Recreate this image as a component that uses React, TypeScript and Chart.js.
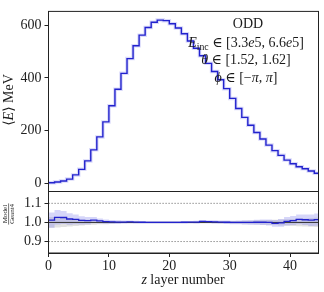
import React, { useEffect, useRef } from 'react';
import { Chart, registerables } from 'chart.js';
Chart.register(...registerables);

// ---------------- data ----------------
const X_MAX = 44.7;
const energyTicks = [0, 200, 400, 600];
const ratioTicks = [0.9, 1.0, 1.1];
const xTicks = [0, 10, 20, 30, 40];

// mean energy per z layer (MeV), 45 layers
const meanEnergy = [
  2, 5, 9, 16, 32, 53, 85, 127, 176, 233,
  294, 357, 417, 473, 522, 562, 591, 611, 619, 617,
  605, 589, 567, 540, 512, 484, 455, 424, 393, 359,
  322, 284, 250, 220, 193, 168, 145, 124, 106, 88,
  74, 63, 55, 47, 38,
];

// Model / Geant4 ratio per layer
const ratioModel = [
  1.012, 1.027, 1.026, 1.018, 1.016, 1.011, 1.010, 1.012, 1.008, 1.004,
  1.003, 1.002, 1.002, 1.003, 1.002, 1.001, 1.000, 1.000, 1.000, 1.000,
  1.000, 1.000, 1.001, 1.002, 1.002, 1.006, 1.004, 1.003, 1.002, 1.001,
  1.000, 1.000, 1.000, 1.000, 1.001, 1.001, 1.000, 0.995, 0.998, 1.006,
  1.010, 1.016, 1.014, 1.012, 1.015,
];

// uncertainty of the model ratio
const modelErr = [
  0.040, 0.038, 0.034, 0.030, 0.026, 0.022, 0.019, 0.016, 0.013, 0.011,
  0.010, 0.009, 0.008, 0.007, 0.007, 0.006, 0.006, 0.006, 0.006, 0.006,
  0.006, 0.006, 0.006, 0.006, 0.007, 0.007, 0.007, 0.008, 0.008, 0.009,
  0.009, 0.010, 0.011, 0.012, 0.013, 0.014, 0.016, 0.018, 0.020, 0.022,
  0.024, 0.026, 0.028, 0.030, 0.032,
];

// uncertainty of Geant4 (around 1)
const geantErr = [
  0.028, 0.026, 0.024, 0.021, 0.018, 0.016, 0.014, 0.012, 0.010, 0.009,
  0.008, 0.007, 0.006, 0.006, 0.005, 0.005, 0.005, 0.005, 0.005, 0.005,
  0.005, 0.005, 0.005, 0.005, 0.005, 0.006, 0.006, 0.006, 0.007, 0.007,
  0.008, 0.008, 0.009, 0.010, 0.011, 0.012, 0.013, 0.014, 0.016, 0.017,
  0.018, 0.020, 0.021, 0.022, 0.024,
];

const ratioDotted = [0.9, 1.1];
const ratioUnity = 1.0;

// ---------------- style ----------------
const FONT = "'Liberation Serif', 'DejaVu Serif', serif";
const BLUE = 'rgb(34,34,205)';
const HALO = 'rgba(150,150,240,0.35)';
const AXIS = '#222';

function stepPoints(vals: number[]) {
  const pts = vals.map((v, i) => ({ x: i, y: v }));
  pts.push({ x: vals.length, y: vals[vals.length - 1] });
  return pts;
}
function flatLine(v: number) {
  return [{ x: 0, y: v }, { x: meanEnergy.length, y: v }];
}

type Seg = { t: string; it?: boolean; sub?: boolean };
function drawRich(ctx: CanvasRenderingContext2D, segs: Seg[], cx: number, baseline: number, size: number) {
  const fontFor = (s: Seg) => `${s.it ? 'italic ' : ''}${s.sub ? size * 0.7 : size}px ${FONT}`;
  let w = 0;
  for (const s of segs) { ctx.font = fontFor(s); w += ctx.measureText(s.t).width; }
  let x = cx - w / 2;
  ctx.textAlign = 'left';
  ctx.textBaseline = 'alphabetic';
  for (const s of segs) {
    ctx.font = fontFor(s);
    ctx.fillText(s.t, x, baseline + (s.sub ? size * 0.22 : 0));
    x += ctx.measureText(s.t).width;
  }
  return w;
}

const framePlugin = {
  id: 'frame',
  afterDraw(chart: any) {
    const { ctx, chartArea: a } = chart;
    ctx.save();
    ctx.strokeStyle = AXIS;
    ctx.lineWidth = 1;
    ctx.strokeRect(a.left, a.top, a.right - a.left, a.bottom - a.top);
    ctx.restore();
  },
};

const mainTextPlugin = {
  id: 'mainText',
  afterDraw(chart: any) {
    const ctx: CanvasRenderingContext2D = chart.ctx;
    ctx.save();
    ctx.fillStyle = '#1a1a1a';
    const cx = 246;
    drawRich(ctx, [{ t: 'ODD' }], cx + 2, 28.3, 14);
    drawRich(ctx, [
      { t: 'E', it: true }, { t: 'inc', sub: true }, { t: ' ∈ [3.3' }, { t: 'e', it: true },
      { t: '5, 6.6' }, { t: 'e', it: true }, { t: '5]' },
    ], cx, 47, 14);
    drawRich(ctx, [{ t: 'θ', it: true }, { t: ' ∈ [1.52, 1.62]' }], cx, 64, 14);
    drawRich(ctx, [
      { t: 'ϕ', it: true }, { t: ' ∈ [−' }, { t: 'π', it: true }, { t: ', ' }, { t: 'π', it: true }, { t: ']' },
    ], cx, 82, 14);
    // y title
    ctx.translate(0, 100);
    ctx.rotate(-Math.PI / 2);
    drawRich(ctx, [{ t: '⟨' }, { t: 'E', it: true }, { t: '⟩ MeV' }], 0, 13, 14);
    ctx.restore();
  },
};

const ratioTextPlugin = {
  id: 'ratioText',
  afterDraw(chart: any) {
    const ctx: CanvasRenderingContext2D = chart.ctx;
    ctx.save();
    ctx.fillStyle = '#1a1a1a';
    // x title
    drawRich(ctx, [{ t: 'z', it: true }, { t: ' layer number' }], 183, 284, 14);
    // y title fraction
    ctx.translate(0, 214);
    ctx.rotate(-Math.PI / 2);
    const w1 = drawRich(ctx, [{ t: 'Model' }], 0, 7.3, 7);
    const w2 = drawRich(ctx, [{ t: 'Geant4' }], 0, 14.4, 7);
    const w = Math.max(w1, w2) + 1;
    ctx.strokeStyle = '#1a1a1a';
    ctx.lineWidth = 0.6;
    ctx.beginPath();
    ctx.moveTo(-w / 2, 8.6);
    ctx.lineTo(w / 2, 8.6);
    ctx.stroke();
    ctx.restore();
  },
};

const tickFont = { family: FONT, size: 14 };

export default function App() {
  const mainRef = useRef<HTMLCanvasElement>(null);
  const ratioRef = useRef<HTMLCanvasElement>(null);

  useEffect(() => {
    document.body.style.margin = '0';
    const c1 = mainRef.current!;
    const c2 = ratioRef.current!;

    const main = new Chart(c1, {
      type: 'line',
      data: {
        datasets: [
          { data: stepPoints(meanEnergy), stepped: true, borderColor: BLUE, borderWidth: 1.4, pointRadius: 0, fill: false },
          { data: stepPoints(meanEnergy), stepped: true, borderColor: HALO, borderWidth: 3.5, pointRadius: 0, fill: false },
        ],
      },
      options: {
        animation: false,
        responsive: false,
        events: [],
        layout: { padding: { left: 0, right: 5.5, top: 5.5, bottom: 100.5 } },
        plugins: { legend: { display: false }, tooltip: { enabled: false } },
        scales: {
          x: { type: 'linear', min: 0, max: X_MAX, display: false },
          y: {
            type: 'linear', min: -31, max: 652,
            afterBuildTicks: (s: any) => { s.ticks = energyTicks.map((v) => ({ value: v })); },
            afterFit: (s: any) => { s.width = 48.5; },
            ticks: { font: tickFont, color: AXIS, padding: 3 },
            grid: { drawOnChartArea: false, drawTicks: true, tickLength: 4, color: AXIS },
            border: { display: true, color: AXIS },
          },
        },
      },
      plugins: [framePlugin, mainTextPlugin],
    } as any);

    const modelUp = ratioModel.map((v, i) => v + modelErr[i]);
    const modelLo = ratioModel.map((v, i) => v - modelErr[i]);
    const g4Up = geantErr.map((e) => ratioUnity + e);
    const g4Lo = geantErr.map((e) => ratioUnity - e);

    const ratio = new Chart(c2, {
      type: 'line',
      data: {
        datasets: [
          { data: stepPoints(ratioModel), stepped: true, borderColor: BLUE, borderWidth: 1.3, pointRadius: 0, fill: false },
          { data: flatLine(ratioUnity), borderColor: '#333', borderWidth: 1, pointRadius: 0, fill: false },
          { data: flatLine(ratioDotted[1]), borderColor: '#777', borderWidth: 1, borderDash: [1.2, 1.8], pointRadius: 0, fill: false },
          { data: flatLine(ratioDotted[0]), borderColor: '#777', borderWidth: 1, borderDash: [1.2, 1.8], pointRadius: 0, fill: false },
          { data: stepPoints(modelUp), stepped: true, borderWidth: 0, borderColor: 'rgba(0,0,0,0)', pointRadius: 0, fill: '+1', backgroundColor: 'rgba(120,120,235,0.3)' },
          { data: stepPoints(modelLo), stepped: true, borderWidth: 0, borderColor: 'rgba(0,0,0,0)', pointRadius: 0, fill: false },
          { data: stepPoints(g4Up), stepped: true, borderWidth: 0, borderColor: 'rgba(0,0,0,0)', pointRadius: 0, fill: '+1', backgroundColor: 'rgba(150,150,150,0.28)' },
          { data: stepPoints(g4Lo), stepped: true, borderWidth: 0, borderColor: 'rgba(0,0,0,0)', pointRadius: 0, fill: false },
        ],
      },
      options: {
        animation: false,
        responsive: false,
        events: [],
        layout: { padding: { left: 0, right: 5.5, top: 191.5, bottom: 0 } },
        plugins: { legend: { display: false }, tooltip: { enabled: false } },
        scales: {
          x: {
            type: 'linear', min: 0, max: X_MAX,
            afterBuildTicks: (s: any) => { s.ticks = xTicks.map((v) => ({ value: v })); },
            afterFit: (s: any) => { s.height = 39; },
            ticks: { font: tickFont, color: AXIS, padding: 1, maxRotation: 0 },
            grid: { drawOnChartArea: false, drawTicks: true, tickLength: 4, color: AXIS },
            border: { display: true, color: AXIS },
          },
          y: {
            type: 'linear', min: 0.84, max: 1.162,
            afterBuildTicks: (s: any) => { s.ticks = ratioTicks.map((v) => ({ value: v })); },
            afterFit: (s: any) => { s.width = 48.5; },
            ticks: { font: tickFont, color: AXIS, padding: 3, callback: (v: any) => Number(v).toFixed(1) },
            grid: { drawOnChartArea: false, drawTicks: true, tickLength: 4, color: AXIS },
            border: { display: true, color: AXIS },
          },
        },
      },
      plugins: [framePlugin, ratioTextPlugin],
    } as any);

    return () => { main.destroy(); ratio.destroy(); };
  }, []);

  const cs: React.CSSProperties = { position: 'absolute', left: 0, top: 0, width: 324, height: 292 };
  return (
    <div style={{ position: 'relative', width: 324, height: 292 }}>
      <canvas ref={mainRef} width={324} height={292} style={cs} />
      <canvas ref={ratioRef} width={324} height={292} style={cs} />
    </div>
  );
}
